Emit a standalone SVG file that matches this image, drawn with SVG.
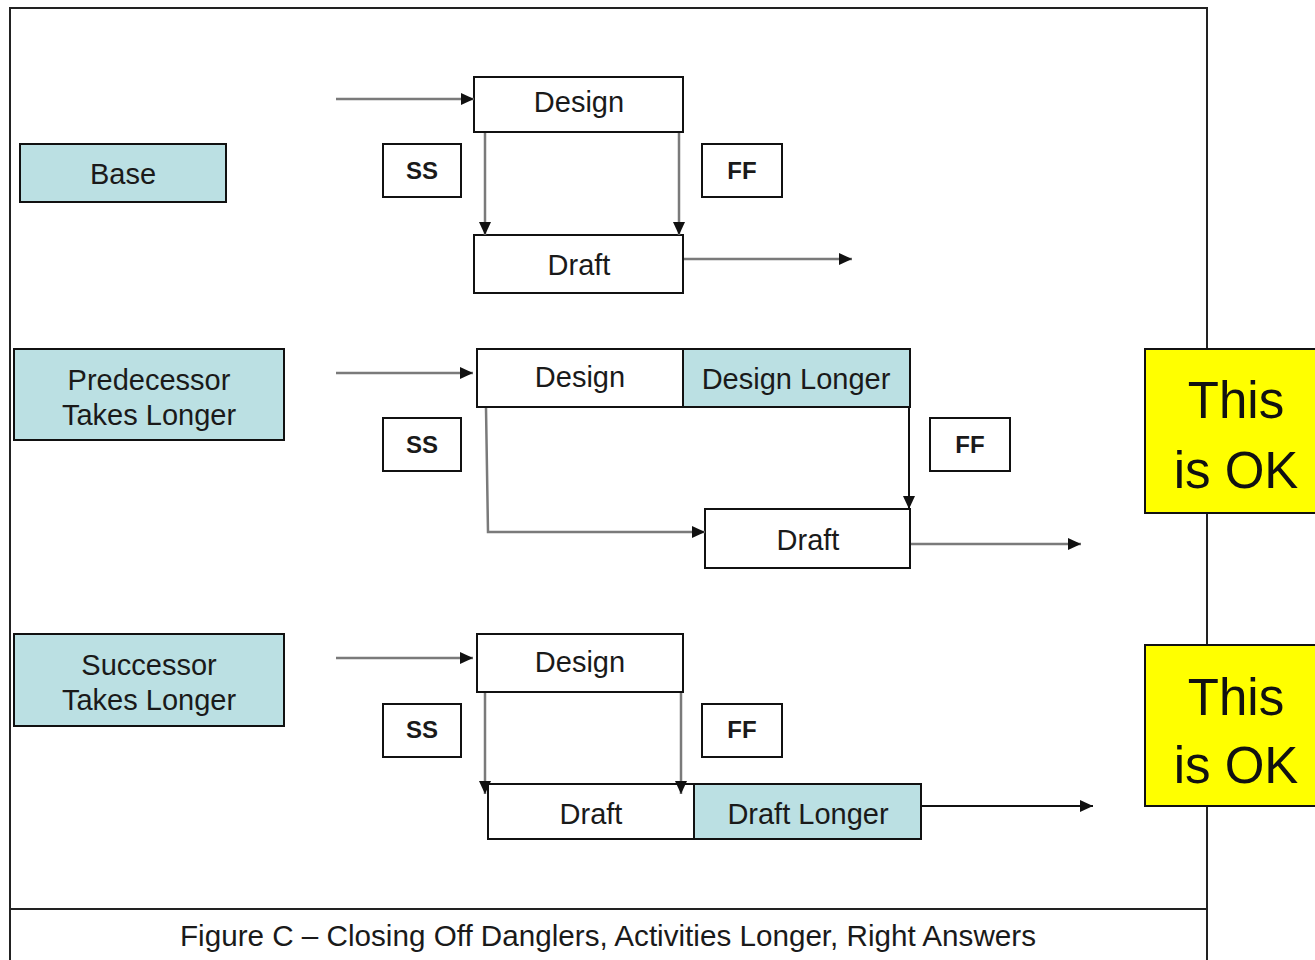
<svg xmlns="http://www.w3.org/2000/svg" width="1315" height="960" viewBox="0 0 1315 960">
<defs>
<style>
.box{fill:#ffffff;stroke:#111;stroke-width:2}
.teal{fill:#bbe0e3;stroke:#111;stroke-width:2}
.yel{fill:#ffff00;stroke:#111;stroke-width:2}
.t{font-family:"Liberation Sans",Arial,sans-serif;font-size:29px;fill:#1a1a1a;text-anchor:middle}
.b{font-family:"Liberation Sans",Arial,sans-serif;font-size:24px;font-weight:bold;fill:#1a1a1a;text-anchor:middle}
.big{font-family:"Liberation Sans",Arial,sans-serif;font-size:51px;fill:#111;text-anchor:middle}
.c{fill:none;stroke:#7a7a7a;stroke-width:2.5}
.k{fill:none;stroke:#111;stroke-width:2}
</style>
<marker id="ah" markerUnits="userSpaceOnUse" markerWidth="13" markerHeight="12" refX="13" refY="6" orient="auto">
<path d="M0,0 L13,6 L0,12 Z" fill="#111"/>
</marker>
</defs>
<rect width="1315" height="960" fill="#fff"/>
<g id="frame">
<path d="M10,960 V8 H1207 V960" fill="none" stroke="#222" stroke-width="2"/>
<line x1="10" y1="909" x2="1207" y2="909" stroke="#222" stroke-width="2"/>
</g>
<g id="base"><rect class="teal" x="20" y="144" width="206" height="58"/><text class="t" x="123" y="184">Base</text></g>
<g id="design1"><rect class="box" x="474" y="77" width="209" height="55"/><text class="t" x="579" y="112">Design</text></g>
<g id="ss1"><rect class="box" x="383" y="144" width="78" height="53"/><text class="b" x="422" y="179">SS</text></g>
<g id="ff1"><rect class="box" x="702" y="144" width="80" height="53"/><text class="b" x="742" y="179">FF</text></g>
<g id="draft1"><rect class="box" x="474" y="235" width="209" height="58"/><text class="t" x="579" y="275">Draft</text></g>

<g id="pred"><rect class="teal" x="14" y="349" width="270" height="91"/><text class="t" x="149" y="390">Predecessor</text><text class="t" x="149" y="425">Takes Longer</text></g>
<g id="design2"><rect class="box" x="477" y="349" width="206" height="58"/><text class="t" x="580" y="387">Design</text></g>
<g id="designlonger"><rect class="teal" x="683" y="349" width="227" height="58"/><text class="t" x="796" y="389">Design Longer</text></g>
<g id="ss2"><rect class="box" x="383" y="418" width="78" height="53"/><text class="b" x="422" y="453">SS</text></g>
<g id="ff2"><rect class="box" x="930" y="418" width="80" height="53"/><text class="b" x="970" y="453">FF</text></g>
<g id="draft2"><rect class="box" x="705" y="509" width="205" height="59"/><text class="t" x="808" y="550">Draft</text></g>
<g id="ok1"><rect class="yel" x="1145" y="349" width="175" height="164"/><text class="big" x="1236" y="418">This</text><text class="big" x="1236" y="488">is OK</text></g>

<g id="succ"><rect class="teal" x="14" y="634" width="270" height="92"/><text class="t" x="149" y="675">Successor</text><text class="t" x="149" y="710">Takes Longer</text></g>
<g id="design3"><rect class="box" x="477" y="634" width="206" height="58"/><text class="t" x="580" y="672">Design</text></g>
<g id="ss3"><rect class="box" x="383" y="704" width="78" height="53"/><text class="b" x="422" y="738">SS</text></g>
<g id="ff3"><rect class="box" x="702" y="704" width="80" height="53"/><text class="b" x="742" y="738">FF</text></g>
<g id="draft3"><rect class="box" x="488" y="784" width="206" height="55"/><text class="t" x="591" y="824">Draft</text></g>
<g id="draftlonger"><rect class="teal" x="694" y="784" width="227" height="55"/><text class="t" x="808" y="824">Draft Longer</text></g>
<g id="ok2"><rect class="yel" x="1145" y="645" width="175" height="161"/><text class="big" x="1236" y="715">This</text><text class="big" x="1236" y="783">is OK</text></g>

<g id="connectors">
<line class="c" x1="336" y1="99" x2="474" y2="99" marker-end="url(#ah)"/>
<line class="c" x1="485" y1="133" x2="485" y2="235" marker-end="url(#ah)"/>
<line class="c" x1="679" y1="133" x2="679" y2="235" marker-end="url(#ah)"/>
<line class="c" x1="684" y1="259" x2="852" y2="259" marker-end="url(#ah)"/>
<line class="c" x1="336" y1="373" x2="473" y2="373" marker-end="url(#ah)"/>
<polyline class="c" points="486,408 488,532 705,532" marker-end="url(#ah)"/>
<line class="k" x1="909" y1="408" x2="909" y2="509" marker-end="url(#ah)"/>
<line class="c" x1="911" y1="544" x2="1081" y2="544" marker-end="url(#ah)"/>
<line class="c" x1="336" y1="658" x2="473" y2="658" marker-end="url(#ah)"/>
<line class="c" x1="485" y1="693" x2="485" y2="794" marker-end="url(#ah)"/>
<line class="c" x1="681" y1="693" x2="681" y2="794" marker-end="url(#ah)"/>
<line class="k" x1="922" y1="806" x2="1093" y2="806" marker-end="url(#ah)"/>
</g>

<text class="t" x="608" y="946" textLength="856" lengthAdjust="spacingAndGlyphs">Figure C – Closing Off Danglers, Activities Longer, Right Answers</text>
</svg>
